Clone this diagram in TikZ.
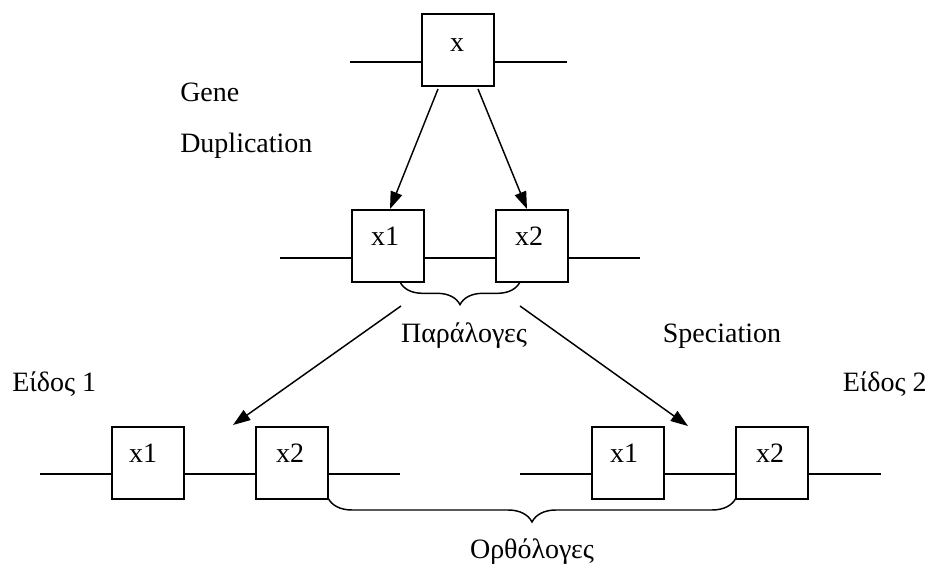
\documentclass[tikz,border=0pt]{standalone}
\usepackage{fontspec}
\setmainfont{Liberation Serif}
\usetikzlibrary{arrows.meta,decorations.pathreplacing}
\begin{document}
\begin{tikzpicture}[x=0.75pt,y=-0.75pt,
  gbox/.style={draw,line width=1.1pt,minimum width=54pt,minimum height=54pt,inner sep=0pt},
  lbl/.style={inner sep=0pt,font=\fontsize{21pt}{25pt}\selectfont},
  gline/.style={line width=1.1pt},
  garrow/.style={line width=1.1pt,-{Triangle[length=13pt,width=9pt]}},
  gbrace/.style={line width=1.1pt,decorate,decoration={brace,amplitude=#1}}]
\useasboundingbox (0,0) rectangle (928,566);
% top
\node[gbox] (T) at (458,50) {};
\node[lbl,anchor=base] (Tl) at (457,52) {x};
\coordinate (tA) at (350,62);
\coordinate (tB) at (567,62);
\draw[gline] (tA) -- (tA -| T.west);
\draw[gline] (tB -| T.east) -- (tB);
% middle
\node[gbox] (M1) at (388,246) {};
\node[gbox] (M2) at (532,246) {};
\node[lbl,anchor=base] (M1l) at (385,246) {x1};
\node[lbl,anchor=base] (M2l) at (529,246) {x2};
\coordinate (mA) at (280,258);
\coordinate (mB) at (640,258);
\draw[gline] (mA) -- (mA -| M1.west);
\draw[gline] (mA -| M1.east) -- (mA -| M2.west);
\draw[gline] (mB -| M2.east) -- (mB);
% bottom
\node[gbox] (B1) at (148,463) {};
\node[gbox] (B2) at (292,463) {};
\node[gbox] (B3) at (628,463) {};
\node[gbox] (B4) at (772,463) {};
\node[lbl,anchor=base] (B1l) at (143,462) {x1};
\node[lbl,anchor=base] (B2l) at (290,462) {x2};
\node[lbl,anchor=base] (B3l) at (624,462) {x1};
\node[lbl,anchor=base] (B4l) at (770,462) {x2};
\coordinate (bA) at (40,474);
\coordinate (bB) at (400,474);
\coordinate (bC) at (520,474);
\coordinate (bD) at (881,474);
\draw[gline] (bA) -- (bA -| B1.west);
\draw[gline] (bA -| B1.east) -- (bA -| B2.west);
\draw[gline] (bA -| B2.east) -- (bB);
\draw[gline] (bC) -- (bC -| B3.west);
\draw[gline] (bC -| B3.east) -- (bC -| B4.west);
\draw[gline] (bC -| B4.east) -- (bD);
% arrows
\coordinate (a1s) at (438,89);
\coordinate (a1e) at (390,209);
\coordinate (a2s) at (478,89);
\coordinate (a2e) at (527,209);
\coordinate (a3s) at (401,306);
\coordinate (a3e) at (233,425);
\coordinate (a4s) at (520,306);
\coordinate (a4e) at (688,426);
\draw[garrow] (a1s) -- (a1e);
\draw[garrow] (a2s) -- (a2e);
\draw[garrow] (a3s) -- (a3e);
\draw[garrow] (a4s) -- (a4e);
% braces
\coordinate (br1a) at (400,282);
\coordinate (br1b) at (520,282);
\draw[gbrace=17pt] (br1b) -- (br1a);
\coordinate (br2a) at (328,498);
\coordinate (br2b) at (736,498);
\draw[gbrace=18pt] (br2b) -- (br2a);
% labels
\node[lbl,anchor=base west] (gene) at (180,102) {Gene};
\node[lbl,anchor=base west] (dup) at (180,153) {Duplication};
\node[lbl,anchor=base] (para) at (464,343) {Παράλογες};
\node[lbl,anchor=base] (spec) at (722,343) {Speciation};
\node[lbl,anchor=base west] (e1) at (12,392) {Είδος 1};
\node[lbl,anchor=base east] (e2) at (927,392) {Είδος 2};
\node[lbl,anchor=base] (ortho) at (532,558) {Ορθόλογες};
\end{tikzpicture}
\end{document}
